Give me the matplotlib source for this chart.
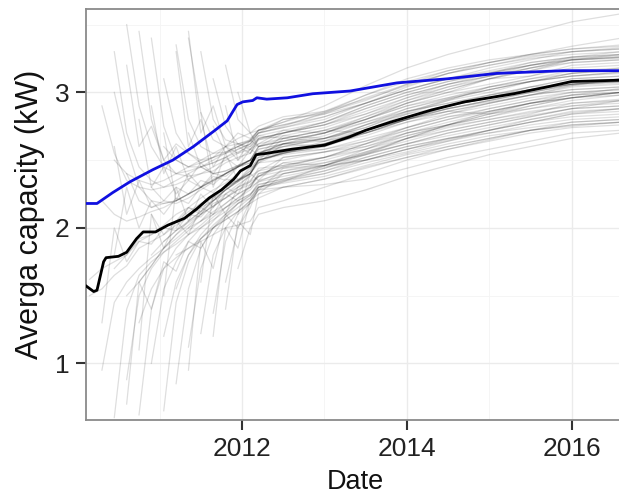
import numpy as np
import matplotlib
matplotlib.use("Agg")
import matplotlib.pyplot as plt
from matplotlib.ticker import MultipleLocator

plt.rcParams['font.family'] = ['Liberation Sans', 'DejaVu Sans']

# Shared date grid (decimal years) for the individual grey series
grid = [2010.15, 2010.3, 2010.45, 2010.6, 2010.75, 2010.9, 2011.05, 2011.2,
        2011.35, 2011.5, 2011.65, 2011.8, 2011.95, 2012.1, 2012.2, 2012.5,
        2013.0, 2013.5, 2014.0, 2014.5, 2015.0, 2015.5, 2016.0, 2016.6]

# Each grey series gives its values for the LAST len(values) grid dates
grey_lines = [
    [1.62,1.70,1.75,1.80,1.92,1.95,2.00,2.05,2.12,2.18,2.22,2.30,2.36,2.40,2.50,2.55,2.62,2.72,2.80,2.88,2.93,2.98,3.05,3.07],
    [1.50,1.55,1.65,1.72,1.85,1.90,1.95,2.02,2.08,2.15,2.20,2.25,2.30,2.35,2.42,2.46,2.52,2.60,2.68,2.75,2.80,2.85,2.90,2.92],
    [2.90,2.55,2.35,2.30,2.28,2.30,2.35,2.40,2.45,2.50,2.55,2.58,2.62,2.70,2.74,2.82,2.92,3.02,3.10,3.15,3.20,3.25,3.27],
    [0.95,1.45,1.60,1.70,1.78,1.85,1.92,2.00,2.05,2.12,2.18,2.25,2.30,2.40,2.44,2.50,2.58,2.66,2.72,2.78,2.83,2.88,2.90],
    [3.30,2.70,2.45,2.35,2.30,2.32,2.36,2.40,2.42,2.48,2.52,2.55,2.62,2.66,2.72,2.82,2.92,3.00,3.06,3.12,3.20,3.22],
    [0.60,1.40,1.65,1.75,1.82,1.88,1.95,2.02,2.10,2.18,2.25,2.30,2.38,2.42,2.48,2.56,2.64,2.72,2.78,2.84,2.92,2.95],
    [1.70,1.80,1.90,1.95,2.02,2.10,2.15,2.22,2.28,2.33,2.40,2.45,2.55,2.60,2.66,2.76,2.86,2.92,2.98,3.04,3.10,3.12],
    [3.50,2.90,2.60,2.45,2.40,2.42,2.45,2.48,2.52,2.56,2.60,2.66,2.70,2.78,2.90,3.00,3.08,3.14,3.20,3.26,3.30],
    [0.88,1.50,1.70,1.82,1.90,1.98,2.05,2.10,2.15,2.22,2.28,2.35,2.40,2.46,2.55,2.62,2.68,2.74,2.80,2.85,2.88],
    [2.40,2.20,2.15,2.18,2.20,2.25,2.30,2.36,2.40,2.46,2.50,2.58,2.62,2.68,2.78,2.88,2.95,3.02,3.08,3.14,3.17],
    [3.45,2.80,2.50,2.40,2.38,2.40,2.45,2.50,2.55,2.58,2.65,2.70,2.76,2.86,2.96,3.04,3.10,3.16,3.24,3.26],
    [0.62,1.40,1.70,1.85,1.95,2.00,2.08,2.15,2.20,2.25,2.32,2.36,2.42,2.50,2.58,2.64,2.70,2.76,2.80,2.82],
    [1.60,1.72,1.85,1.95,2.05,2.12,2.20,2.28,2.35,2.40,2.50,2.55,2.60,2.70,2.78,2.84,2.90,2.96,3.00,3.02],
    [3.40,2.75,2.50,2.45,2.45,2.48,2.52,2.58,2.62,2.70,2.75,2.85,2.98,3.08,3.16,3.22,3.28,3.32,3.35],
    [1.00,1.55,1.75,1.90,2.00,2.06,2.12,2.20,2.25,2.30,2.35,2.40,2.48,2.55,2.62,2.68,2.72,2.76,2.78],
    [2.30,2.20,2.18,2.22,2.28,2.34,2.40,2.45,2.50,2.60,2.64,2.70,2.80,2.90,2.96,3.02,3.08,3.12,3.15],
    [3.10,2.70,2.55,2.50,2.52,2.55,2.60,2.64,2.72,2.78,2.90,3.05,3.18,3.28,3.36,3.44,3.52,3.58],
    [0.65,1.45,1.75,1.92,2.02,2.10,2.18,2.22,2.30,2.35,2.42,2.52,2.60,2.66,2.72,2.78,2.84,2.86],
    [1.90,1.98,2.05,2.12,2.20,2.28,2.35,2.42,2.52,2.56,2.62,2.72,2.82,2.88,2.94,3.00,3.06,3.08],
    [3.35,2.80,2.60,2.55,2.56,2.60,2.65,2.72,2.76,2.84,2.96,3.06,3.14,3.20,3.25,3.28,3.30],
    [0.85,1.55,1.85,2.00,2.10,2.18,2.24,2.32,2.36,2.44,2.54,2.62,2.70,2.76,2.82,2.88,2.90],
    [2.20,2.25,2.30,2.35,2.40,2.45,2.48,2.56,2.60,2.66,2.76,2.84,2.90,2.96,3.02,3.06,3.08],
    [3.40,2.85,2.65,2.60,2.62,2.65,2.72,2.78,2.86,2.98,3.10,3.18,3.24,3.28,3.32,3.34],
    [1.12,1.70,1.95,2.08,2.18,2.24,2.34,2.38,2.44,2.52,2.60,2.66,2.70,2.74,2.78,2.80],
    [2.00,2.10,2.20,2.28,2.34,2.40,2.50,2.56,2.62,2.72,2.82,2.90,2.96,3.02,3.08,3.10],
    [3.30,2.80,2.65,2.62,2.64,2.70,2.74,2.80,2.92,3.02,3.10,3.16,3.22,3.26,3.28],
    [1.22,1.80,2.00,2.12,2.20,2.30,2.34,2.40,2.50,2.58,2.65,2.72,2.78,2.82,2.84],
    [2.45,2.40,2.42,2.46,2.50,2.60,2.64,2.70,2.80,2.90,2.98,3.04,3.10,3.16,3.18],
    [3.10,2.75,2.62,2.60,2.68,2.72,2.78,2.88,2.98,3.06,3.12,3.18,3.22,3.24],
    [1.37,1.90,2.10,2.18,2.28,2.30,2.36,2.45,2.52,2.58,2.64,2.70,2.74,2.76],
    [2.30,2.35,2.40,2.50,2.55,2.62,2.72,2.82,2.90,2.96,3.02,3.06,3.08],
    [1.60,2.00,2.15,2.30,2.33,2.38,2.46,2.54,2.60,2.66,2.72,2.76,2.78],
    [2.60,2.55,2.66,2.70,2.78,2.90,3.00,3.08,3.14,3.20,3.24,3.26],
    [1.80,1.85,1.90,1.95,2.00,2.02,2.05,2.15,2.20,2.30,2.40,2.50,2.58,2.65,2.72,2.75,2.78],
    [2.50,2.40,2.35,2.32,2.35,2.40,2.45,2.50,2.55,2.60,2.66,2.70,2.75,2.82,2.86,2.95,3.05,3.14,3.20,3.26,3.30,3.33],
    [1.30,1.55,1.70,1.78,1.85,1.92,2.00,2.08,2.15,2.22,2.30,2.40,2.45,2.50,2.58,2.66,2.72,2.78,2.84,2.88],
    [2.60,2.50,2.45,2.48,2.52,2.56,2.60,2.64,2.70,2.80,2.85,2.94,3.06,3.16,3.22,3.27,3.30,3.32],
    [1.50,1.60,1.72,1.85,1.95,2.02,2.10,2.16,2.22,2.28,2.34,2.38,2.48,2.52,2.58,2.68,2.76,2.82,2.88,2.94,2.98],
    [2.20,2.10,2.05,2.08,2.12,2.15,2.20,2.25,2.30,2.35,2.40,2.45,2.50,2.55,2.62,2.66,2.72,2.80,2.88,2.94,3.00,3.05,3.10],
    [2.70,2.45,2.40,2.42,2.46,2.50,2.58,2.62,2.70,2.82,2.94,3.04,3.12,3.18,3.24,3.28],
    [1.80,1.90,1.98,2.04,2.10,2.16,2.22,2.28,2.32,2.38,2.45,2.48,2.54,2.62,2.70,2.76,2.82,2.88,2.94],
    [2.05,2.15,2.25,2.32,2.38,2.42,2.52,2.56,2.60,2.70,2.78,2.85,2.92,2.98,3.03],
    [2.20,2.28,2.35,2.40,2.50,2.55,2.64,2.76,2.88,2.96,3.04,3.10,3.14,3.16],
    [1.70,2.00,2.10,2.15,2.20,2.28,2.38,2.46,2.54,2.60,2.66,2.70],
    [3.00,2.60,2.30,2.20,2.18,2.20,2.25,2.30,2.35,2.40,2.45,2.50,2.55,2.62,2.66,2.74,2.85,2.95,3.02,3.08,3.12,3.15],
    [1.55,1.80,1.95,2.05,2.15,2.22,2.30,2.34,2.42,2.46,2.55,2.66,2.76,2.84,2.90,2.96,3.00],
    [3.20,2.80,2.70,2.72,2.80,2.84,2.92,3.04,3.14,3.22,3.28,3.34,3.40],
    [1.20,1.60,1.80,1.92,2.00,2.06,2.12,2.18,2.22,2.30,2.32,2.36,2.44,2.52,2.58,2.64,2.70,2.72],
    [2.30,2.40,2.45,2.52,2.62,2.72,2.80,2.86,2.92,2.96,2.98],
    [3.20,2.60,2.75,2.50,2.62,2.55,2.48,2.52,2.60,2.55,2.62,2.68,2.66,2.72,2.70,2.80,2.86,2.84,2.92,2.98,3.00],
    [1.10,2.10,1.85,2.05,1.95,2.15,2.10,2.25,2.20,2.32,2.38,2.48,2.46,2.58,2.70,2.76,2.86,2.92,2.96,3.00],
    [2.90,2.40,2.60,2.35,2.48,2.40,2.52,2.45,2.58,2.62,2.72,2.70,2.80,2.92,3.00,3.10,3.12,3.18,3.20],
    [1.50,2.30,2.05,2.25,2.15,2.30,2.25,2.40,2.48,2.62,2.60,2.72,2.84,2.94,3.00,3.08,3.14,3.18],
    [3.30,2.60,2.80,2.45,2.60,2.50,2.58,2.54,2.68,2.66,2.74,2.86,2.94,3.04,3.08,3.12,3.14],
    [0.95,1.90,1.70,2.10,2.00,2.20,2.28,2.44,2.46,2.54,2.66,2.74,2.80,2.86,2.90,2.94],
    [2.85,2.30,2.55,2.35,2.45,2.50,2.66,2.64,2.72,2.80,2.90,2.96,3.04,3.06,3.10],
    [1.20,2.00,1.85,2.20,2.25,2.40,2.46,2.56,2.66,2.76,2.82,2.90,2.96,3.00],
    [1.80,2.30,2.00,2.20,2.10,2.22,2.18,2.30,2.26,2.36,2.34,2.44,2.48,2.56,2.58,2.64,2.74,2.82,2.86,2.92,2.96,3.00],
    [1.30,2.00,1.75,1.90,1.88,2.00,1.98,2.10,2.08,2.18,2.22,2.30,2.34,2.44,2.46,2.52,2.62,2.70,2.76,2.84,2.88,2.92,2.94],
    [2.90,2.50,2.65,2.60,2.70,2.76,2.84,2.96,3.06,3.14,3.22,3.26,3.28],
    [2.10,2.40,2.35,2.52,2.56,2.62,2.74,2.84,2.92,2.98,3.04,3.06],
    [2.70,2.20,2.40,2.30,2.38,2.35,2.45,2.50,2.60,2.64,2.70,2.78,2.86,2.92,2.98,3.02,3.06,3.10],
    [1.60,2.25,2.10,2.30,2.40,2.48,2.50,2.56,2.64,2.72,2.80,2.88,2.94,3.00,3.02],
    [0.70,1.60,1.40,1.75,1.68,1.90,1.85,2.00,2.06,2.12,2.20,2.28,2.34,2.46,2.50,2.56,2.64,2.72,2.80,2.86,2.88],
    [2.55,2.65,2.68,2.74,2.84,2.94,3.02,3.10,3.18,3.24,3.26],
    [2.45,2.55,2.58,2.62,2.70,2.80,2.88,2.94,3.00,3.06,3.08],
    [2.75,2.55,2.62,2.58,2.66,2.70,2.76,2.88,2.98,3.06,3.12,3.20,3.24,3.25],
    [2.00,2.15,2.10,2.22,2.28,2.34,2.40,2.50,2.54,2.58,2.66,2.74,2.82,2.88,2.94,2.98,3.00],
    [2.10,1.95,2.05,2.15,2.12,2.25,2.30,2.35,2.42,2.50,2.55,2.60,2.70,2.80,2.86,2.92,2.98,3.02,3.04],
    [3.45,2.70,2.90,2.60,2.70,2.66,2.72,2.76,2.82,2.92,3.02,3.10,3.18,3.24,3.30,3.32],
    [1.40,2.05,1.95,2.25,2.30,2.36,2.44,2.52,2.60,2.66,2.72,2.78,2.80],
    [2.80,2.30,2.45,2.25,2.35,2.30,2.40,2.38,2.45,2.50,2.55,2.62,2.64,2.70,2.80,2.90,2.98,3.04,3.10,3.12],
    [3.00,2.70,2.60,2.66,2.72,2.80,2.92,3.02,3.10,3.16,3.22,3.24],
    [2.60,2.10,2.35,2.15,2.20,2.30,2.25,2.35,2.32,2.40,2.45,2.48,2.52,2.60,2.62,2.68,2.78,2.86,2.92,2.98,3.02,3.04],
]

# Mean series (black)
black_date = [2010.11, 2010.2, 2010.24, 2010.32, 2010.35, 2010.5, 2010.6, 2010.72, 2010.8,
              2010.95, 2011.1, 2011.3, 2011.45, 2011.6, 2011.75, 2011.9, 2011.98, 2012.1,
              2012.17, 2012.3, 2012.6, 2013.0, 2013.3, 2013.5, 2013.8, 2014.3, 2014.7,
              2015.3, 2015.7, 2016.0, 2016.6]
black_val = [1.57, 1.53, 1.54, 1.75, 1.78, 1.79, 1.82, 1.92, 1.97,
             1.97, 2.02, 2.07, 2.14, 2.22, 2.28, 2.36, 2.42, 2.46,
             2.54, 2.55, 2.58, 2.61, 2.67, 2.72, 2.78, 2.87, 2.93,
             2.99, 3.04, 3.08, 3.09]

# Blue series
blue_date = [2010.11, 2010.24, 2010.43, 2010.64, 2010.92, 2011.16, 2011.41, 2011.65, 2011.82,
             2011.94, 2012.01, 2012.13, 2012.18, 2012.30, 2012.55, 2012.86, 2013.31, 2013.88,
             2014.49, 2015.09, 2015.90, 2016.6]
blue_val = [2.18, 2.18, 2.26, 2.34, 2.43, 2.50, 2.60, 2.71, 2.79,
            2.91, 2.93, 2.94, 2.96, 2.95, 2.96, 2.99, 3.01, 3.07,
            3.10, 3.14, 3.16, 3.16]

x_ticks = [2012, 2014, 2016]
y_ticks = [1, 2, 3]

fig = plt.figure(figsize=(6.19, 4.95), dpi=100)
ax = fig.add_axes([0.139, 0.1515, 0.871, 0.8297])

g = np.array(grid)
for vals in grey_lines:
    xs = g[len(g) - len(vals):]
    ax.plot(xs, vals, color='black', alpha=0.13, lw=0.9, zorder=2)

ax.plot(blue_date, blue_val, color='#1010e0', lw=2.0, zorder=4)
ax.plot(black_date, black_val, color='black', lw=2.0, zorder=4)

ax.set_xlim(2010.107, 2016.65)
ax.set_ylim(0.582, 3.613)
ax.set_xticks(x_ticks)
ax.set_xticklabels([str(t) for t in x_ticks])
ax.set_yticks(y_ticks)
ax.set_yticklabels([str(t) for t in y_ticks])
ax.xaxis.set_minor_locator(MultipleLocator(1))
ax.yaxis.set_minor_locator(MultipleLocator(0.5))

ax.grid(True, which='major', color='#ebebeb', lw=1.0, zorder=0)
ax.grid(True, which='minor', color='#f4f4f4', lw=0.6, zorder=0)
ax.set_axisbelow(True)

for s in ax.spines.values():
    s.set_color('#8a8a8a')
    s.set_linewidth(1.3)

ax.tick_params(which='major', length=7, width=1.5, color='#333333',
               labelsize=19, labelcolor='#222222', pad=5)
ax.tick_params(which='minor', length=0)

ax.set_xlabel('Date', fontsize=19.5, color='#111111', labelpad=6)
ax.set_ylabel('Averga capacity (kW)', fontsize=22, color='#111111', labelpad=7)

fig.savefig('out.png', dpi=100)
